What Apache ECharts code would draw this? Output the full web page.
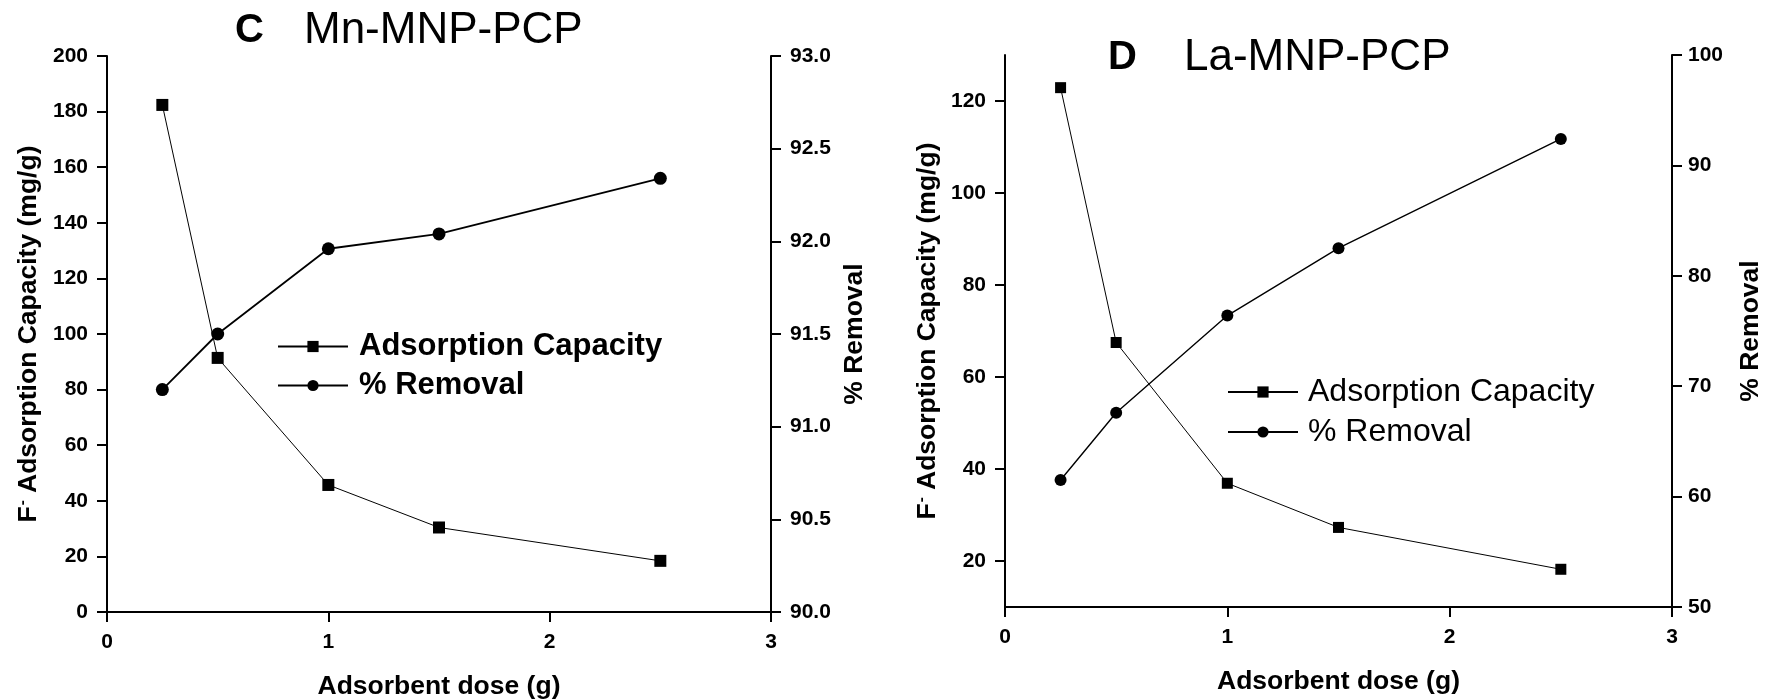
<!DOCTYPE html>
<html>
<head>
<meta charset="utf-8">
<title>Adsorbent dose effect</title>
<script src="https://cdn.jsdelivr.net/npm/echarts@6/dist/echarts.min.js"></script>
<style>
  html, body { margin: 0; padding: 0; background: #fff; }
  #chart { width: 1765px; height: 699px; }
</style>
</head>
<body>
<div id="chart"></div>
<script>
// Adsorbent dose (g) used in both experiments
const doses = [0.25, 0.5, 1, 1.5, 2.5];

// Panel C: Mn-MNP-PCP
const mnCapacity = [182.4, 91.4, 45.7, 30.4, 18.4];      // mg/g
const mnRemoval  = [91.20, 91.50, 91.96, 92.04, 92.34];  // %

// Panel D: La-MNP-PCP
const laCapacity = [122.9, 67.5, 36.9, 27.3, 18.2];      // mg/g
const laRemoval  = [61.5, 67.6, 76.4, 82.5, 92.4];       // %

// Tick values on the La-MNP-PCP capacity axis (axis runs 10..130)
const laCapacityTicks = [20, 40, 60, 80, 100, 120];

const FONT = "'Liberation Sans', Arial, sans-serif";
const BLACK = '#000';

const pairs = (xs, ys) => xs.map((x, i) => [x, ys[i]]);

const axisLine = { show: true, lineStyle: { color: BLACK, width: 2 } };
const axisTick = { show: true, inside: false, length: 10, lineStyle: { color: BLACK, width: 2 } };
const tickLabel = { color: BLACK, fontSize: 21, fontWeight: 'bold', fontFamily: FONT, margin: 19 };
const nameStyle = { color: BLACK, fontSize: 26.5, fontWeight: 'bold', fontFamily: FONT };

const capacityName = '{a|F}{s|-}{a| Adsorption Capacity (mg/g)}';
const capacityNameStyle = Object.assign({}, nameStyle, {
  rich: {
    a: { fontSize: 26.5, fontWeight: 'bold', fontFamily: FONT, color: BLACK },
    s: { fontSize: 15, fontWeight: 'bold', fontFamily: FONT, color: BLACK, padding: [0, 0, 12, 1] }
  }
});

function xAxisFor(grid) {
  return {
    type: 'value', gridIndex: grid, min: 0, max: 3, interval: 1,
    axisLine, axisTick, splitLine: { show: false },
    axisLabel: Object.assign({}, tickLabel, { margin: 20 }),
    name: 'Adsorbent dose (g)', nameLocation: 'middle', nameGap: 61,
    nameTextStyle: nameStyle
  };
}

const option = {
  backgroundColor: '#fff',
  animation: false,
  title: [
    { text: 'C', left: 235, top: 11, padding: 0,
      textStyle: { fontSize: 40, fontWeight: 'bold', fontFamily: FONT, color: BLACK } },
    { text: 'Mn-MNP-PCP', left: 304, top: 9, padding: 0,
      textStyle: { fontSize: 44, fontWeight: 'normal', fontFamily: FONT, color: BLACK } },
    { text: 'D', left: 1108, top: 38, padding: 0,
      textStyle: { fontSize: 40, fontWeight: 'bold', fontFamily: FONT, color: BLACK } },
    { text: 'La-MNP-PCP', left: 1184, top: 36, padding: 0,
      textStyle: { fontSize: 44, fontWeight: 'normal', fontFamily: FONT, color: BLACK } }
  ],
  legend: [
    {
      orient: 'vertical', left: 277, top: 331, padding: 0,
      itemWidth: 70, itemHeight: 14, itemGap: 8,
      data: ['Adsorption Capacity', '% Removal'],
      textStyle: { fontSize: 31, fontWeight: 'bold', fontFamily: FONT, color: BLACK,
                   lineHeight: 31, padding: [0, 0, 0, 6] }
    },
    {
      orient: 'vertical', left: 1227, top: 376, padding: 0,
      itemWidth: 70, itemHeight: 14, itemGap: 8,
      data: ['Adsorption Capacity', '% Removal'],
      textStyle: { fontSize: 32, fontWeight: 'normal', fontFamily: FONT, color: BLACK,
                   lineHeight: 32, padding: [0, 0, 0, 5] }
    }
  ],
  grid: [
    { left: 107, top: 56, width: 664, height: 556, containLabel: false, outerBoundsMode: 'none' },
    { left: 1005, top: 55, width: 667, height: 552, containLabel: false, outerBoundsMode: 'none' }
  ],
  xAxis: [xAxisFor(0), xAxisFor(1)],
  yAxis: [
    { // C: capacity
      type: 'value', gridIndex: 0, position: 'left', min: 0, max: 200, interval: 20,
      axisLine, axisTick, splitLine: { show: false }, axisLabel: tickLabel,
      name: capacityName, nameLocation: 'middle', nameGap: 65, nameTextStyle: capacityNameStyle
    },
    { // C: removal
      type: 'value', gridIndex: 0, position: 'right', min: 90, max: 93, interval: 0.5,
      axisLine, axisTick, splitLine: { show: false },
      axisLabel: Object.assign({}, tickLabel, { formatter: v => v.toFixed(1) }),
      name: '% Removal', nameLocation: 'middle', nameGap: 70, nameTextStyle: nameStyle
    },
    { // D: capacity
      type: 'value', gridIndex: 1, position: 'left', min: 10, max: 130,
      axisLine,
      axisTick: Object.assign({}, axisTick, { customValues: laCapacityTicks }),
      splitLine: { show: false },
      axisLabel: Object.assign({}, tickLabel, { customValues: laCapacityTicks }),
      name: capacityName, nameLocation: 'middle', nameGap: 64, nameTextStyle: capacityNameStyle
    },
    { // D: removal
      type: 'value', gridIndex: 1, position: 'right', min: 50, max: 100, interval: 10,
      axisLine, axisTick, splitLine: { show: false },
      axisLabel: Object.assign({}, tickLabel, { margin: 16 }),
      name: '% Removal', nameLocation: 'middle', nameGap: 65, nameTextStyle: nameStyle
    }
  ],
  series: [
    {
      name: 'Adsorption Capacity', type: 'line', xAxisIndex: 0, yAxisIndex: 0,
      data: pairs(doses, mnCapacity),
      symbol: 'rect', symbolSize: 12, showAllSymbol: true,
      lineStyle: { color: BLACK, width: 1 }, itemStyle: { color: BLACK }
    },
    {
      name: '% Removal', type: 'line', xAxisIndex: 0, yAxisIndex: 1,
      data: pairs(doses, mnRemoval),
      symbol: 'circle', symbolSize: 13, showAllSymbol: true,
      lineStyle: { color: BLACK, width: 1.8 }, itemStyle: { color: BLACK }
    },
    {
      name: 'Adsorption Capacity', type: 'line', xAxisIndex: 1, yAxisIndex: 2,
      data: pairs(doses, laCapacity),
      symbol: 'rect', symbolSize: 11, showAllSymbol: true,
      lineStyle: { color: BLACK, width: 1 }, itemStyle: { color: BLACK }
    },
    {
      name: '% Removal', type: 'line', xAxisIndex: 1, yAxisIndex: 3,
      data: pairs(doses, laRemoval),
      symbol: 'circle', symbolSize: 12, showAllSymbol: true,
      lineStyle: { color: BLACK, width: 1.4 }, itemStyle: { color: BLACK }
    }
  ]
};

const chart = echarts.init(document.getElementById('chart'), null, { renderer: 'canvas' });
chart.setOption(option);
</script>
</body>
</html>
